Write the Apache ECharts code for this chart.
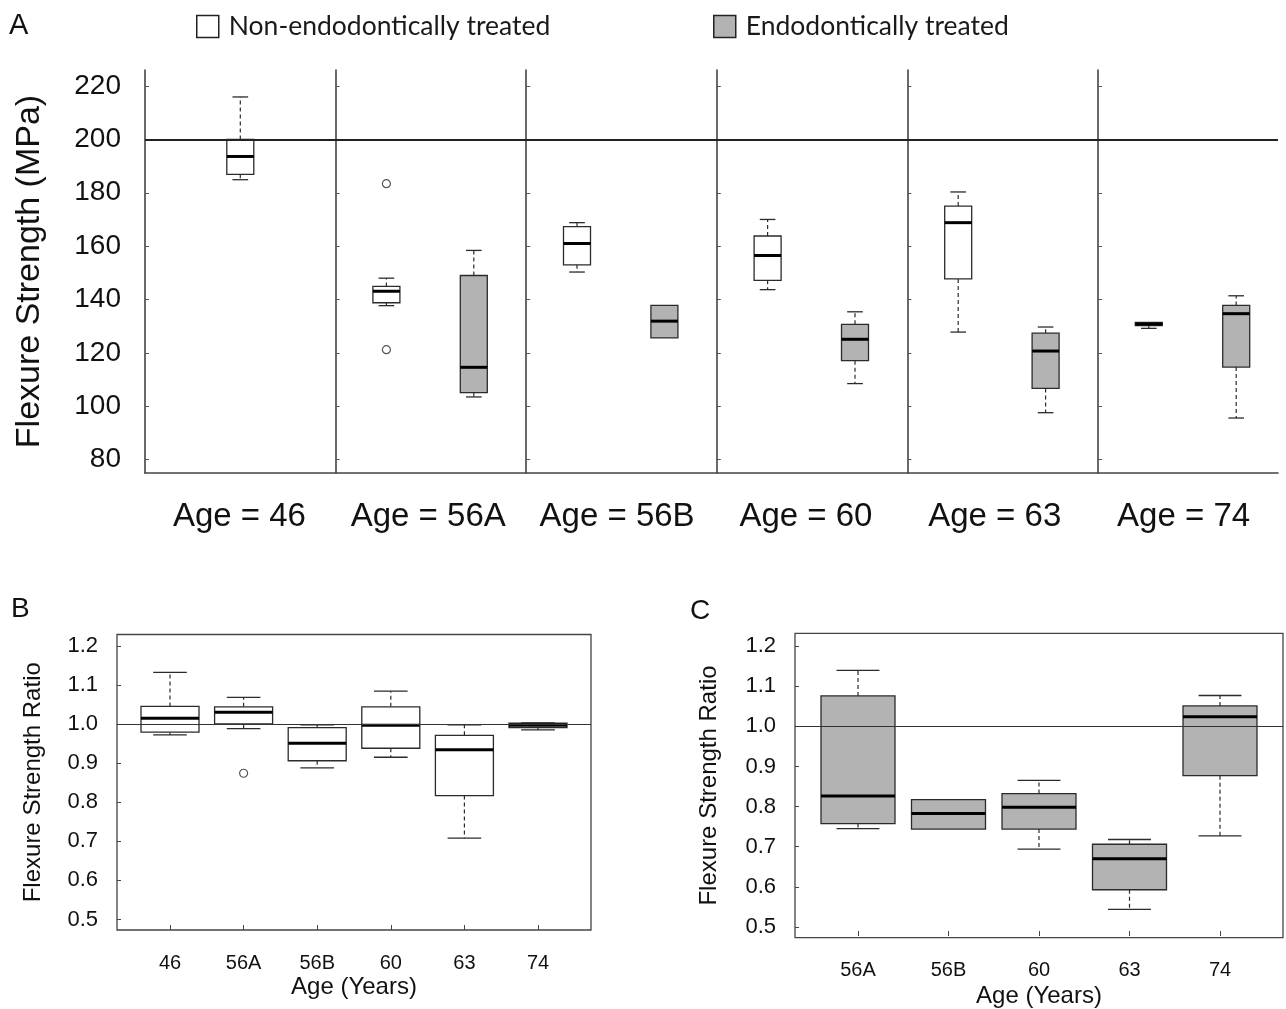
<!DOCTYPE html>
<html><head><meta charset="utf-8">
<script src="https://cdn.jsdelivr.net/npm/echarts@6.0.0/dist/echarts.min.js"></script>
<style>html,body{margin:0;padding:0;background:#fff}#chart{width:1286px;height:1009px}</style>
</head><body><div id="chart"></div>
<script>
// ---------------- DATA ----------------
const ageGroups = ['46', '56A', '56B', '60', '63', '74'];
const panelLabels = ['Age = 46', 'Age = 56A', 'Age = 56B', 'Age = 60', 'Age = 63', 'Age = 74'];
const groupNames = ['Non-endodontically treated', 'Endodontically treated'];
// Flexure strength (MPa): [min, Q1, median, Q3, max]
const strengthNonEndo = [
  [184.9, 186.9, 193.6, 200.0, 215.9],
  [137.7, 138.8, 143.1, 144.9, 148.0],
  [150.3, 153.0, 161.0, 167.3, 168.8],
  [143.7, 147.2, 156.5, 163.8, 170.0],
  [127.8, 147.7, 168.8, 175.0, 180.3],
  [129.2, 130.2, 130.8, 131.4, 131.4]
];
const strengthEndo = [
  null,
  [103.5, 105.1, 114.6, 149.0, 158.4],
  [125.6, 125.6, 131.9, 137.8, 137.8],
  [108.5, 117.1, 125.1, 130.7, 135.4],
  [97.6, 106.7, 120.7, 127.4, 129.7],
  [95.6, 114.7, 134.7, 137.8, 141.4]
];
const strengthNonEndoOutliers = [[], [183.4, 121.2], [], [], [], []];
const strengthTicks = [80, 100, 120, 140, 160, 180, 200, 220];
const strengthReference = 200;

// Flexure strength ratio, panel B (non-endodontically treated)
const ratioBCategories = ['46', '56A', '56B', '60', '63', '74'];
const ratioNonEndo = [
  [0.972, 0.979, 1.015, 1.045, 1.132],
  [0.988, 1.000, 1.030, 1.044, 1.068],
  [0.888, 0.906, 0.951, 0.991, 0.998],
  [0.915, 0.938, 0.997, 1.044, 1.084],
  [0.708, 0.817, 0.934, 0.971, 0.998],
  [0.985, 0.991, 0.997, 1.002, 1.003]
];
const ratioNonEndoOutliers = [[], [0.874], [], [], [], []];
// Panel C (endodontically treated)
const ratioCCategories = ['56A', '56B', '60', '63', '74'];
const ratioEndo = [
  [0.742, 0.755, 0.824, 1.075, 1.139],
  [0.741, 0.741, 0.780, 0.815, 0.815],
  [0.691, 0.741, 0.796, 0.830, 0.863],
  [0.540, 0.589, 0.667, 0.703, 0.715],
  [0.724, 0.875, 1.023, 1.050, 1.076]
];
const ratioTicks = [0.5, 0.6, 0.7, 0.8, 0.9, 1.0, 1.1, 1.2];
const ratioReference = 1.0;

// ---------------- STYLE / LAYOUT ----------------
const FONT = 'Liberation Sans, Arial, sans-serif';
const INK = '#2b2b2b';
const GRAY = '#b3b3b3';
const A_TOP = 70, A_H = 403, A_LEFT = 145, A_PW = 190.6, A_INSET = 7.1, A_INNER = 174.8;

function boxRenderer(boxPx, fill) {
  return function (params, api) {
    const xi = api.value(0);
    const v = [1, 2, 3, 4, 5].map(d => api.value(d));
    const p = v.map(val => api.coord([xi, val]));
    const cx = p[0][0];
    const yMin = p[0][1], yQ1 = p[1][1], yMed = p[2][1], yQ3 = p[3][1], yMax = p[4][1];
    const half = boxPx / 2, cap = boxPx * 0.29;
    const dashed = {stroke: INK, lineWidth: 1.2, lineDash: [4, 3]};
    const solid = {stroke: INK, lineWidth: 1.3};
    const ch = [];
    if (v[4] > v[3]) {
      ch.push({type: 'line', shape: {x1: cx, y1: yQ3, x2: cx, y2: yMax}, style: dashed});
      ch.push({type: 'line', shape: {x1: cx - cap, y1: yMax, x2: cx + cap, y2: yMax}, style: solid});
    }
    if (v[0] < v[1]) {
      ch.push({type: 'line', shape: {x1: cx, y1: yQ1, x2: cx, y2: yMin}, style: dashed});
      ch.push({type: 'line', shape: {x1: cx - cap, y1: yMin, x2: cx + cap, y2: yMin}, style: solid});
    }
    ch.push({type: 'rect', shape: {x: cx - half, y: yQ3, width: boxPx, height: yQ1 - yQ3}, style: {fill: fill, stroke: INK, lineWidth: 1.3}});
    ch.push({type: 'line', shape: {x1: cx - half, y1: yMed, x2: cx + half, y2: yMed}, style: {stroke: '#000', lineWidth: 3}});
    return {type: 'group', children: ch};
  };
}

const grid = [], xAxis = [], yAxis = [], series = [];

// --- Panel A background: bottom axis, panel labels, reference line ---
grid.push({left: A_LEFT, top: A_TOP, width: 1278 - A_LEFT, height: A_H});
xAxis.push({type: 'category', gridIndex: 0, data: panelLabels,
  axisLine: {lineStyle: {color: '#444', width: 1.6}}, axisTick: {show: false},
  axisLabel: {interval: 0, fontSize: 33, color: '#111', fontFamily: FONT, margin: 27}});
yAxis.push({type: 'value', gridIndex: 0, min: 75, max: 226, show: false});
series.push({type: 'line', xAxisIndex: 0, yAxisIndex: 0, data: [], silent: true,
  markLine: {symbol: 'none', silent: true, label: {show: false},
    lineStyle: {color: '#222', width: 1.8, type: 'solid'}, data: [{yAxis: strengthReference}]}});

// --- Panel A sub panels ---
ageGroups.forEach((g, i) => {
  const gi = grid.length;
  const single = strengthEndo[i] === null;
  const left = A_LEFT + A_PW * i + (single ? 0 : A_INSET);
  grid.push({left: left, top: A_TOP, width: single ? A_PW : A_INNER, height: A_H});
  xAxis.push({type: 'category', gridIndex: gi, show: false,
    data: single ? [groupNames[0]] : groupNames});
  yAxis.push({type: 'value', gridIndex: gi, min: 75, max: 226,
    offset: single ? 0 : A_INSET,
    axisLine: {show: true, lineStyle: {color: '#444', width: 1.6}},
    axisTick: {show: true, inside: true, length: 4, customValues: strengthTicks, lineStyle: {color: '#555'}},
    axisLabel: {show: i === 0, customValues: strengthTicks, fontSize: 28, color: '#111', fontFamily: FONT, margin: 24},
    splitLine: {show: false},
    name: i === 0 ? 'Flexure Strength (MPa)' : '', nameLocation: 'middle', nameRotate: 90, nameGap: 98,
    nameTextStyle: {fontSize: 34, color: '#111', fontFamily: FONT}});
  series.push({type: 'custom', name: groupNames[0], xAxisIndex: gi, yAxisIndex: gi,
    renderItem: boxRenderer(27, '#fff'), encode: {x: 0, y: [1, 2, 3, 4, 5]},
    itemStyle: {color: '#fff'}, data: [[0].concat(strengthNonEndo[i])], z: 3});
  if (!single) {
    series.push({type: 'custom', name: groupNames[1], xAxisIndex: gi, yAxisIndex: gi,
      renderItem: boxRenderer(27, GRAY), encode: {x: 0, y: [1, 2, 3, 4, 5]},
      itemStyle: {color: GRAY}, data: [[1].concat(strengthEndo[i])], z: 3});
  }
  if (strengthNonEndoOutliers[i].length) {
    series.push({type: 'scatter', xAxisIndex: gi, yAxisIndex: gi, symbol: 'circle', symbolSize: 8,
      itemStyle: {color: '#fff', borderColor: INK, borderWidth: 1.2},
      data: strengthNonEndoOutliers[i].map(v => [0, v]), z: 4});
  }
});

// --- Panels B and C ---
function ratioPanel(frameLeft, frameW, top, bottom, inset, cats, stats, outliers, fill, boxPx, labelMargin, nameGapX, nameGapY, yMin, yMax) {
  const fi = grid.length;
  grid.push({left: frameLeft, top: top, width: frameW, height: bottom - top, show: true,
    borderColor: '#444', borderWidth: 1.3, backgroundColor: 'transparent'});
  xAxis.push({type: 'value', gridIndex: fi, show: false, min: 0, max: 1});
  yAxis.push({type: 'value', gridIndex: fi, min: yMin, max: yMax,
    axisLine: {show: false},
    axisTick: {show: true, inside: true, length: 4, customValues: ratioTicks, lineStyle: {color: '#444'}},
    axisLabel: {customValues: ratioTicks, formatter: v => v.toFixed(1), fontSize: 22, color: '#111', fontFamily: FONT, margin: 19},
    splitLine: {show: false},
    name: 'Flexure Strength Ratio', nameLocation: 'middle', nameRotate: 90, nameGap: nameGapY,
    nameTextStyle: {fontSize: 24, color: '#111', fontFamily: FONT}});
  series.push({type: 'line', xAxisIndex: fi, yAxisIndex: fi, data: [], silent: true,
    markLine: {symbol: 'none', silent: true, label: {show: false},
      lineStyle: {color: '#333', width: 1.2, type: 'solid'}, data: [{yAxis: ratioReference}]}});
  const di = grid.length;
  grid.push({left: frameLeft + inset, top: top, width: frameW - 2 * inset, height: bottom - top});
  xAxis.push({type: 'category', gridIndex: di, data: cats,
    axisLine: {show: false},
    axisTick: {show: true, inside: true, alignWithLabel: true, length: 5, lineStyle: {color: '#444'}},
    axisLabel: {interval: 0, fontSize: 20, color: '#111', fontFamily: FONT, margin: labelMargin},
    name: 'Age (Years)', nameLocation: 'middle', nameGap: nameGapX,
    nameTextStyle: {fontSize: 24, color: '#111', fontFamily: FONT}});
  yAxis.push({type: 'value', gridIndex: di, min: yMin, max: yMax, show: false});
  series.push({type: 'custom', name: fill === GRAY ? groupNames[1] : groupNames[0], xAxisIndex: di, yAxisIndex: di,
    renderItem: boxRenderer(boxPx, fill), encode: {x: 0, y: [1, 2, 3, 4, 5]},
    itemStyle: {color: fill}, data: stats.map((s, k) => [k].concat(s)), z: 3});
  if (outliers) {
    const pts = [];
    outliers.forEach((arr, k) => arr.forEach(v => pts.push([k, v])));
    series.push({type: 'scatter', xAxisIndex: di, yAxisIndex: di, symbol: 'circle', symbolSize: 8,
      itemStyle: {color: '#fff', borderColor: INK, borderWidth: 1.2}, data: pts, z: 4});
  }
}
ratioPanel(117, 474, 634.5, 930, 16.2, ratioBCategories, ratioNonEndo, ratioNonEndoOutliers, '#fff', 58, 23, 45, 72, 0.473, 1.229);
ratioPanel(795, 488, 633.3, 937.7, 17.75, ratioCCategories, ratioEndo, null, GRAY, 74, 24, 48, 74, 0.473, 1.232);

const legendText = {fontFamily: 'Lato, Open Sans, sans-serif', fontSize: 26.5, color: '#1a1a1a', padding: [0, 0, 0, 5]};
const option = {
  backgroundColor: '#fff',
  animation: false,
  grid: grid, xAxis: xAxis, yAxis: yAxis, series: series,
  legend: [
    {left: 196, top: 13, padding: 0, itemWidth: 22, itemHeight: 22, selectedMode: false, textStyle: legendText,
      data: [{name: groupNames[0], icon: 'rect', itemStyle: {color: '#fff', borderColor: '#222', borderWidth: 1.5}}]},
    {left: 713, top: 13, padding: 0, itemWidth: 22, itemHeight: 22, selectedMode: false, textStyle: legendText,
      data: [{name: groupNames[1], icon: 'rect', itemStyle: {color: GRAY, borderColor: '#222', borderWidth: 1.5}}]}
  ],
  graphic: [
    {type: 'text', left: 9, top: 11, style: {text: 'A', fontSize: 29, fontFamily: FONT, fill: '#111'}},
    {type: 'text', left: 11, top: 595, style: {text: 'B', fontSize: 28, fontFamily: FONT, fill: '#111'}},
    {type: 'text', left: 690, top: 597, style: {text: 'C', fontSize: 28, fontFamily: FONT, fill: '#111'}}
  ]
};
const chart = echarts.init(document.getElementById('chart'), null, {renderer: 'canvas'});
chart.setOption(option);
</script></body></html>
